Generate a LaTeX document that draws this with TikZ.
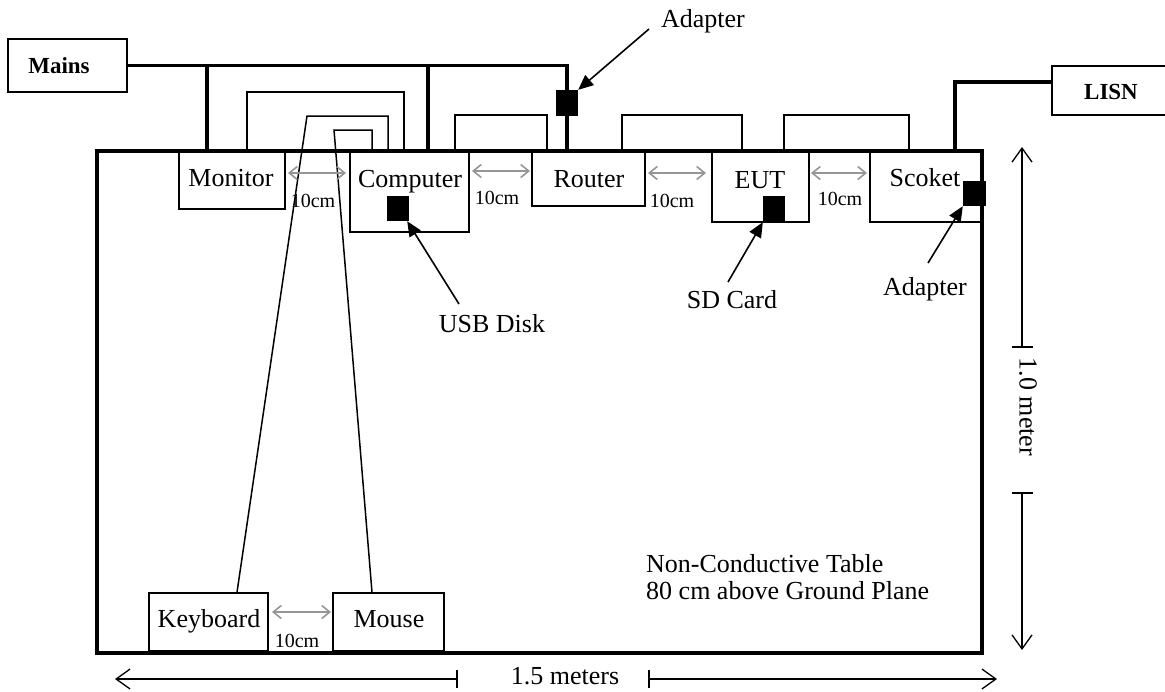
\documentclass[tikz,border=0pt]{standalone}
\usepackage{fontspec}
\setmainfont{Liberation Serif}
\usetikzlibrary{arrows.meta}
\definecolor{gapgray}{RGB}{150,150,150}
\begin{document}
\begin{tikzpicture}[x=1pt,y=-1pt,
  box/.style={draw, line width=1.5pt, inner sep=0pt},
  tablebox/.style={draw, line width=3.2pt, inner sep=0pt},
  power/.style={line width=3.2pt},
  cable/.style={line width=1.5pt},
  sq/.style={fill=black, inner sep=0pt},
  gap/.style={draw=gapgray, line width=1.6pt, {Straight Barb[length=8pt,width=13pt]}-{Straight Barb[length=8pt,width=13pt]}},
  ptr/.style={line width=1.6pt, -{Triangle[length=15pt,width=13pt]}},
  dim/.style={line width=1.3pt},
  dimtip/.style={line width=1.3pt, -{Straight Barb[length=14pt,width=20pt]}},
  txt/.style={font=\fontsize{26}{30}\selectfont, inner sep=0pt, anchor=base},
  small/.style={font=\fontsize{20}{24}\selectfont, inner sep=0pt, anchor=base},
  boldtxt/.style={font=\bfseries\fontsize{23}{27}\selectfont, inner sep=0pt, anchor=base}]
\useasboundingbox (0,0) rectangle (1165,691);
\clip (0,0) rectangle (1165,691);

% table
\node[tablebox, minimum width=885pt, minimum height=502pt] (tbl) at (539.5,402) {};

% boxes
\node[box, minimum width=119pt, minimum height=53pt] (mains) at (67.5,65.5) {};
\node[boldtxt] (mainst) at (59,73) {Mains};
\node[box, minimum width=130pt, minimum height=49pt] (lisn) at (1117,90.5) {};
\node[boldtxt] (lisnt) at (1111,99) {LISN};

\node[box, minimum width=106pt, minimum height=58pt] (mon) at (232,180) {};
\node[txt] (mont) at (231,186) {Monitor};
\node[box, minimum width=119pt, minimum height=81pt] (comp) at (409.5,191.5) {};
\node[txt] (compt) at (410,187) {Computer};
\node[box, minimum width=113pt, minimum height=55pt] (rout) at (588.5,178.5) {};
\node[txt] (routt) at (589,187) {Router};
\node[box, minimum width=97pt, minimum height=71pt] (eut) at (760.5,186.5) {};
\node[txt] (eutt) at (760,188) {EUT};
\node[box, minimum width=112pt, minimum height=71pt] (sock) at (926,186.5) {};
\node[txt] (sockt) at (925,186) {Scoket};
\node[box, minimum width=119pt, minimum height=58pt] (kb) at (208.5,622) {};
\node[txt] (kbt) at (209,627) {Keyboard};
\node[box, minimum width=111pt, minimum height=58pt] (mouse) at (388.5,622) {};
\node[txt] (mouset) at (389,627) {Mouse};

% black squares
\node[sq, minimum width=22pt, minimum height=25pt] (usb) at (398,208.5) {};
\node[sq, minimum width=22pt, minimum height=26pt] (sd) at (774,209) {};
\node[sq, minimum width=22pt, minimum height=26pt] (radp) at (567,103) {};
\node[sq, minimum width=23pt, minimum height=25pt] (sadp) at (974.5,193.5) {};

% power wiring
\draw[power] (mains.east) -- (567,65.5) -- (radp.north);
\draw[power] (radp.south) -- (rout.north -| radp.south);
\draw[power] (207,65.5) -- (mon.north -| 207,0);
\draw[power] (428,65.5) -- (comp.north -| 428,0);
\draw[power] (lisn.west |- 0,82) -- (955,82) -- (sock.north -| 955,0);

% signal cables
\draw[cable] (mon.north -| 247,0) -- (247,92) -- (404,92) -- (comp.north -| 404,0);
\draw[cable] (kb.north -| 237,0) -- (307,116) -- (388,116) -- (comp.north -| 388,0);
\draw[cable] (mouse.north -| 372,0) -- (334,130) -- (372,130) -- (comp.north -| 372,0);
\draw[cable] (comp.north -| 455,0) -- (455,115) -- (547,115) -- (rout.north -| 547,0);
\draw[cable] (rout.north -| 622,0) -- (622,115) -- (742,115) -- (eut.north -| 742,0);
\draw[cable] (eut.north -| 784,0) -- (784,115) -- (909,115) -- (sock.north -| 909,0);

% 10cm spacings
\draw[gap] (288,173) -- (346,173);
\node[small] (g1) at (313,207) {10cm};
\draw[gap] (472,171) -- (530,171);
\node[small] (g2) at (497,204) {10cm};
\draw[gap] (648,173) -- (706,173);
\node[small] (g3) at (672,207) {10cm};
\draw[gap] (811,173) -- (867,173);
\node[small] (g4) at (840,205) {10cm};
\draw[gap] (272,612) -- (331,612);
\node[small] (g5) at (297,647) {10cm};

% labels with pointers
\node[txt] (adp1) at (703,27) {Adapter};
\draw[ptr] (649,29) -- (radp.north east);
\node[txt] (usbt) at (492,332) {USB Disk};
\draw[ptr] (459,304) -- ([xshift=-2pt]usb.south east);
\node[txt] (sdt) at (732,308) {SD Card};
\draw[ptr] (728,282) -- (sd.south west);
\node[txt] (adp2) at (925,295) {Adapter};
\draw[ptr] (928,263) -- (sadp.south west);

% table text
\node[txt, anchor=base west] (nc1) at (646,572) {Non-Conductive Table};
\node[txt, anchor=base west] (nc2) at (646,599) {80 cm above Ground Plane};

% dimensions
\node[txt] (wid) at (565,684) {1.5 meters};
\draw[dimtip] (457,679) -- (115,679);
\draw[dim] (457,670) -- (457,688);
\draw[dimtip] (649,679) -- (997,679);
\draw[dim] (649,670) -- (649,688);
\node[txt, rotate=-90, anchor=center] (hei) at (1028,407) {1.0 meter};
\draw[dimtip] (1022,347) -- (1022,147);
\draw[dim] (1012,347) -- (1033,347);
\draw[dimtip] (1022,493) -- (1022,650);
\draw[dim] (1012,493) -- (1033,493);
\end{tikzpicture}
\end{document}
